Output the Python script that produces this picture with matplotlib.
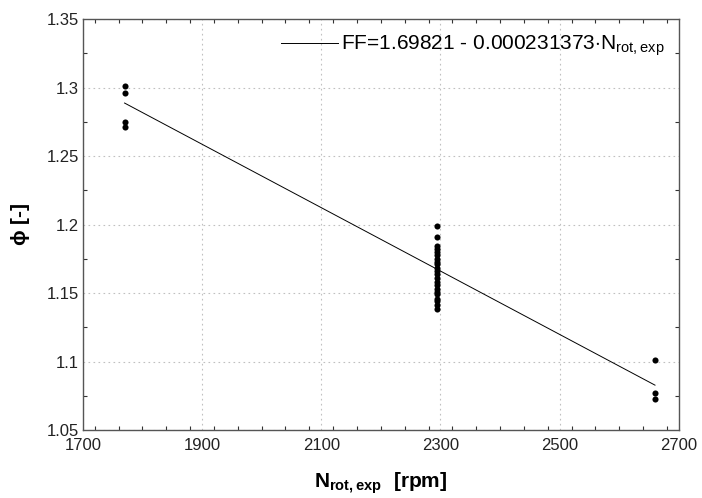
import numpy as np
import matplotlib
matplotlib.use("Agg")
import matplotlib.pyplot as plt
from matplotlib.ticker import MultipleLocator

plt.rcParams['font.family'] = ['Liberation Sans', 'DejaVu Sans']
plt.rcParams['mathtext.fontset'] = 'custom'
plt.rcParams['mathtext.rm'] = 'Liberation Sans'
plt.rcParams['mathtext.bf'] = 'Liberation Sans:bold'

# data
n_low = [1770, 1770, 1770, 1770]
phi_low = [1.301, 1.296, 1.275, 1.271]
n_mid = [2295] * 22
phi_mid = [1.199, 1.191, 1.184, 1.182, 1.180, 1.178, 1.175, 1.173, 1.171, 1.168,
           1.166, 1.164, 1.161, 1.158, 1.156, 1.153, 1.151, 1.149, 1.146, 1.144,
           1.141, 1.138]
n_high = [2660, 2660, 2660]
phi_high = [1.101, 1.077, 1.073]

fit_a = 1.69821
fit_b = -0.000231373
fit_label = r"FF=1.69821 - 0.000231373$\cdot$N$_{\mathrm{rot,exp}}$"

xticks = [1700, 1900, 2100, 2300, 2500, 2700]
yticks = [1.05, 1.1, 1.15, 1.2, 1.25, 1.3, 1.35]
ytick_labels = ["1.05", "1.1", "1.15", "1.2", "1.25", "1.3", "1.35"]

fig = plt.figure(figsize=(7.02, 4.98), dpi=100)
ax = fig.add_axes([0.118, 0.1365, 0.849, 0.8253])

xs = np.concatenate([n_low, n_mid, n_high])
ys = np.concatenate([phi_low, phi_mid, phi_high])
ax.plot(xs, ys, 'o', color='black', markersize=4.4, markeredgewidth=0, zorder=3)

xl = np.array([min(xs), max(xs)])
ax.plot(xl, fit_a + fit_b * xl, '-', color='black', lw=0.7, label=fit_label, zorder=2)

ax.set_xlim(1700, 2700)
ax.set_ylim(1.05, 1.35)
ax.set_xticks(xticks)
ax.set_yticks(yticks)
ax.set_yticklabels(ytick_labels)
ax.xaxis.set_minor_locator(MultipleLocator(40))
ax.yaxis.set_minor_locator(MultipleLocator(0.025))
ax.tick_params(which='both', direction='in', top=True, right=True, length=3,
               color='#333333', labelsize=12, labelcolor='#222222', width=0.8)
ax.tick_params(which='major', length=0)
ax.tick_params(axis='x', which='major', pad=6)
ax.tick_params(axis='y', which='major', pad=3)
ax.grid(True, which='major', linestyle=(0, (1.5, 3)), color='#c0c0c0', lw=0.8)
for s in ax.spines.values():
    s.set_color('#555555')
    s.set_linewidth(1.0)

ax.set_xlabel(r"N$_{\mathbf{rot,exp}}$  [rpm]", fontsize=15, fontweight='bold', labelpad=12)
ax.set_ylabel(r"$\mathbf{\phi}$ [-]", fontsize=15, fontweight='bold', labelpad=10)

leg = ax.legend(loc='upper right', frameon=False, fontsize=15, handlelength=2.7,
                handletextpad=0.15, borderaxespad=0.3)

fig.savefig("out.png", dpi=100)
